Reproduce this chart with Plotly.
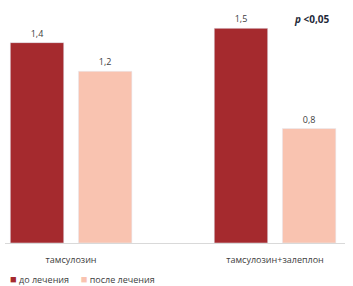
import plotly.graph_objects as go

categories = ["тамсулозин", "тамсулозин+залеплон"]
before = [1.4, 1.5]
after = [1.2, 0.8]
series_names = ["до лечения", "после лечения"]

DARK = "#A52A2E"
LIGHT = "#F9C3B0"
TXT = "#404040"
FONT = "Open Sans"

def fmt(v):
    return f"{v:.1f}".replace(".", ",")

fig = go.Figure()
fig.add_trace(go.Bar(
    x=[0, 1], y=before, name=series_names[0], marker_color=DARK,
    width=0.262, offset=-0.298,
    text=[fmt(v) for v in before], textposition="outside",
    textfont=dict(size=9, color=TXT, family=FONT), cliponaxis=False,
))
fig.add_trace(go.Bar(
    x=[0, 1], y=after, name=series_names[1], marker_color=LIGHT,
    width=0.262, offset=0.036,
    text=[fmt(v) for v in after], textposition="outside",
    textfont=dict(size=9, color=TXT, family=FONT), cliponaxis=False,
))

fig.update_layout(
    width=353, height=286,
    margin=dict(l=5, r=8, t=14, b=43),
    paper_bgcolor="white", plot_bgcolor="white",
    barmode="overlay", showlegend=False,
    font=dict(family=FONT, size=9, color=TXT),
    xaxis=dict(
        tickmode="array", tickvals=[0, 1], ticktext=categories,
        range=[-0.324, 1.343], showgrid=False, zeroline=False,
        showline=True, linecolor="#D9D9D9", linewidth=1,
        ticks="outside", ticklen=8, tickcolor="rgba(0,0,0,0)",
        tickfont=dict(size=9, color=TXT, family=FONT),
    ),
    yaxis=dict(range=[0, 1.6], visible=False, showgrid=False),
)

fig.add_annotation(
    x=1.0, xref="paper", y=1.0, yref="paper", xanchor="right", yanchor="middle",
    text="<b><i>p</i> &lt;0,05</b>", showarrow=False,
    font=dict(size=10, color="#1F2A3A", family=FONT),
    xshift=-13, yshift=-5,
)

legend_text = (
    f"<span style='color:{DARK};font-size:11px'>■</span> {series_names[0]}"
    f"     <span style='color:{LIGHT};font-size:11px'>■</span> {series_names[1]}"
)
fig.add_annotation(
    x=0, xref="paper", y=0, yref="paper", xanchor="left", yanchor="middle",
    text=legend_text, showarrow=False,
    font=dict(size=9, color=TXT, family=FONT),
    xshift=3, yshift=-35,
)

fig.write_html(
    "out.html",
    config={"displayModeBar": False},
    post_script="document.body.style.margin='0';document.body.style.overflow='hidden';",
)
